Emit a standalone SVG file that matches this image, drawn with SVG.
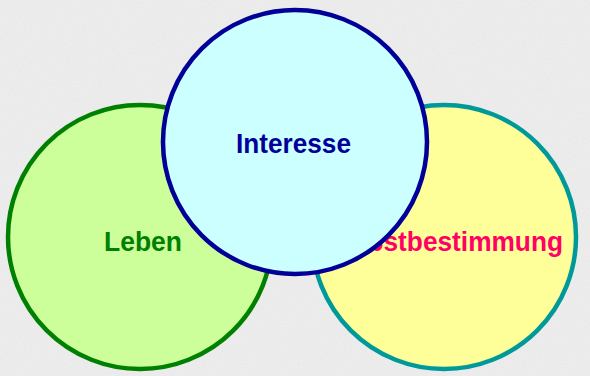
<svg xmlns="http://www.w3.org/2000/svg" width="590" height="376" viewBox="0 0 590 376">
<defs>
<filter id="noise" x="0" y="0" width="100%" height="100%">
<feTurbulence type="fractalNoise" baseFrequency="0.8" numOctaves="2" seed="3" result="n"/>
<feColorMatrix in="n" type="matrix" values="0 0 0 0 0.6  0 0 0 0 0.6  0 0 0 0 0.6  0 0 0 0.3 0" result="g"/>
<feComposite in="g" in2="SourceGraphic" operator="over"/>
</filter>
</defs>
<style>
.c{stroke-width:4.5}
.t{font-family:"Liberation Sans",Arial,sans-serif;font-weight:bold;font-size:27px}
</style>
<rect width="590" height="376" fill="#F0F0F0" filter="url(#noise)"/>
<g id="leben">
<circle class="c" cx="140" cy="237" r="132" fill="#CCFF99" stroke="#008000"/>
<text class="t" x="104" y="251" fill="#008000" textLength="78" lengthAdjust="spacingAndGlyphs">Leben</text>
</g>
<g id="selbstbestimmung">
<circle class="c" cx="444" cy="237" r="132" fill="#FFFF99" stroke="#009999"/>
<text class="t" x="328" y="251" fill="#FF0066" textLength="235" lengthAdjust="spacingAndGlyphs">Selbstbestimmung</text>
</g>
<g id="interesse">
<circle class="c" cx="295" cy="142" r="132" fill="#CCFFFF" stroke="#000099"/>
<text class="t" x="236" y="153" fill="#000099" textLength="115" lengthAdjust="spacingAndGlyphs">Interesse</text>
</g>
<g id="connectors"/>
</svg>
